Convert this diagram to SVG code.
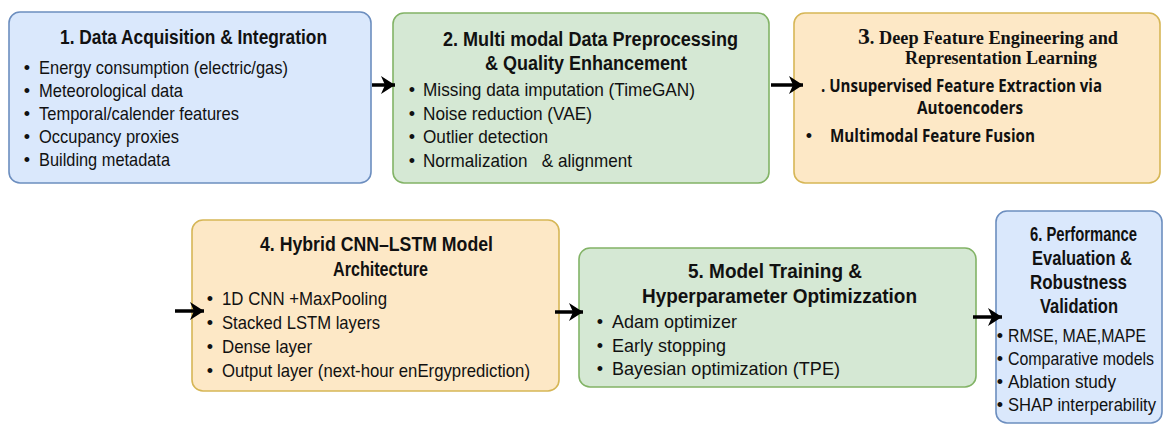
<svg xmlns="http://www.w3.org/2000/svg" width="1171" height="426" viewBox="0 0 1171 426">
<style>
.box{stroke-width:1.6}
.blue{fill:#dae8fc;stroke:#6c8ebf}
.green{fill:#d5e8d4;stroke:#82b366}
.orange{fill:#fde8c6;stroke:#d6b656}
.t{font-family:"Liberation Sans",Arial,sans-serif;font-weight:bold;font-size:19.5px;fill:#111}
.b{font-family:"Liberation Sans",Arial,sans-serif;font-size:19px;fill:#111}
.b6{font-family:"Liberation Sans",Arial,sans-serif;font-size:17.5px;fill:#111}
.dot{font-family:"Liberation Sans",Arial,sans-serif;font-size:18px;fill:#111;text-anchor:middle}
.s{font-family:"Liberation Serif","Times New Roman",serif;font-weight:bold;font-size:18.5px;fill:#111}
.c{font-family:"Open Sans","Lato",sans-serif;font-weight:700;font-size:17.5px;fill:#111}
.arrow{stroke:#000;stroke-width:3.5;fill:none;marker-end:url(#ah)}
</style>
<defs>
<marker id="ah" markerUnits="userSpaceOnUse" markerWidth="15" markerHeight="18" refX="14" refY="9" orient="auto">
<path d="M0,0 L14,9 L0,18 L4,9 z" fill="#000"/>
</marker>
</defs>
<rect width="1171" height="426" fill="#fff"/>

<g id="node1">
<rect class="box blue" x="9" y="12" width="362" height="171" rx="11"/>
<text class="t" x="60" y="44" textLength="267" lengthAdjust="spacingAndGlyphs">1. Data Acquisition &amp; Integration</text>
<text class="dot" x="27" y="74">•</text><text class="b" x="39" y="74" textLength="249" lengthAdjust="spacingAndGlyphs">Energy consumption (electric/gas)</text>
<text class="dot" x="27" y="97">•</text><text class="b" x="39" y="97" textLength="144" lengthAdjust="spacingAndGlyphs">Meteorological data</text>
<text class="dot" x="27" y="120">•</text><text class="b" x="39" y="120" textLength="200" lengthAdjust="spacingAndGlyphs">Temporal/calender features</text>
<text class="dot" x="27" y="143">•</text><text class="b" x="39" y="143" textLength="140" lengthAdjust="spacingAndGlyphs">Occupancy proxies</text>
<text class="dot" x="27" y="166">•</text><text class="b" x="39" y="166" textLength="131" lengthAdjust="spacingAndGlyphs">Building metadata</text>
</g>

<g id="node2">
<rect class="box green" x="393" y="13" width="376" height="170" rx="11"/>
<text class="t" x="443" y="46" textLength="295" lengthAdjust="spacingAndGlyphs">2. Multi modal Data Preprocessing</text>
<text class="t" x="485" y="70" textLength="202" lengthAdjust="spacingAndGlyphs">&amp; Quality Enhancement</text>
<text class="dot" x="412" y="96">•</text><text class="b" x="423" y="96" textLength="272" lengthAdjust="spacingAndGlyphs">Missing data imputation (TimeGAN)</text>
<text class="dot" x="412" y="120">•</text><text class="b" x="423" y="120" textLength="169" lengthAdjust="spacingAndGlyphs">Noise reduction (VAE)</text>
<text class="dot" x="412" y="143">•</text><text class="b" x="423" y="143" textLength="125" lengthAdjust="spacingAndGlyphs">Outlier detection</text>
<text class="dot" x="412" y="167">•</text><text class="b" x="423" y="167" textLength="209" lengthAdjust="spacingAndGlyphs" xml:space="preserve">Normalization   &amp; alignment</text>
</g>

<g id="node3">
<rect class="box orange" x="794" y="13" width="366" height="170" rx="11"/>
<text class="s" x="858" y="44" textLength="260" lengthAdjust="spacingAndGlyphs"><tspan font-size="24">3</tspan>. Deep Feature Engineering and</text>
<text class="s" x="905" y="64" textLength="192" lengthAdjust="spacingAndGlyphs">Representation Learning</text>
<text class="c" x="821" y="92" textLength="281" lengthAdjust="spacingAndGlyphs">. Unsupervised Feature Extraction via</text>
<text class="c" x="917" y="114" textLength="106" lengthAdjust="spacingAndGlyphs">Autoencoders</text>
<text class="dot" x="809" y="142">•</text><text class="c" x="830" y="142" textLength="205" lengthAdjust="spacingAndGlyphs">Multimodal Feature Fusion</text>
</g>

<g id="node4">
<rect class="box orange" x="192" y="220" width="367" height="171" rx="11"/>
<text class="t" x="260" y="251" textLength="233" lengthAdjust="spacingAndGlyphs">4. Hybrid CNN–LSTM Model</text>
<text class="t" x="333" y="276" textLength="95" lengthAdjust="spacingAndGlyphs">Architecture</text>
<text class="dot" x="210" y="305">•</text><text class="b" x="222" y="305" textLength="165" lengthAdjust="spacingAndGlyphs">1D CNN +MaxPooling</text>
<text class="dot" x="210" y="329">•</text><text class="b" x="222" y="329" textLength="158" lengthAdjust="spacingAndGlyphs">Stacked LSTM layers</text>
<text class="dot" x="210" y="353">•</text><text class="b" x="222" y="353" textLength="90" lengthAdjust="spacingAndGlyphs">Dense layer</text>
<text class="dot" x="210" y="377">•</text><text class="b" x="222" y="377" textLength="308" lengthAdjust="spacingAndGlyphs">Output layer (next-hour enErgyprediction)</text>
</g>

<g id="node5">
<rect class="box green" x="579" y="248" width="397" height="139" rx="11"/>
<text class="t" x="688" y="278" textLength="174" lengthAdjust="spacingAndGlyphs">5. Model Training &amp;</text>
<text class="t" x="642" y="303" textLength="275" lengthAdjust="spacingAndGlyphs">Hyperparameter Optimizzation</text>
<text class="dot" x="600" y="328">•</text><text class="b" x="612" y="328" textLength="125" lengthAdjust="spacingAndGlyphs">Adam optimizer</text>
<text class="dot" x="600" y="352">•</text><text class="b" x="612" y="352" textLength="114" lengthAdjust="spacingAndGlyphs">Early stopping</text>
<text class="dot" x="600" y="375">•</text><text class="b" x="612" y="375" textLength="228" lengthAdjust="spacingAndGlyphs">Bayesian optimization (TPE)</text>
</g>

<g id="node6">
<rect class="box blue" x="996" y="211" width="166" height="212" rx="11"/>
<text class="t" x="1030" y="241" textLength="107" lengthAdjust="spacingAndGlyphs">6. Performance</text>
<text class="t" x="1032" y="265" textLength="100" lengthAdjust="spacingAndGlyphs">Evaluation &amp;</text>
<text class="t" x="1030" y="289" textLength="97" lengthAdjust="spacingAndGlyphs">Robustness</text>
<text class="t" x="1040" y="313" textLength="78" lengthAdjust="spacingAndGlyphs">Validation</text>
<text class="dot" x="1000" y="342">•</text><text class="b6" x="1008" y="342" textLength="138" lengthAdjust="spacingAndGlyphs">RMSE, MAE,MAPE</text>
<text class="dot" x="1000" y="365">•</text><text class="b6" x="1008" y="365" textLength="146" lengthAdjust="spacingAndGlyphs">Comparative models</text>
<text class="dot" x="1000" y="388">•</text><text class="b6" x="1008" y="388" textLength="108" lengthAdjust="spacingAndGlyphs">Ablation study</text>
<text class="dot" x="1000" y="411">•</text><text class="b6" x="1008" y="411" textLength="148" lengthAdjust="spacingAndGlyphs">SHAP interperability</text>
</g>

<g id="connectors">
<path class="arrow" d="M372,85 L395,85"/>
<path class="arrow" d="M771,85 L803,85"/>
<path class="arrow" d="M175,311 L204,311"/>
<path class="arrow" d="M555,312 L583,312"/>
<path class="arrow" d="M973,317 L1002,317"/>
</g>
</svg>
